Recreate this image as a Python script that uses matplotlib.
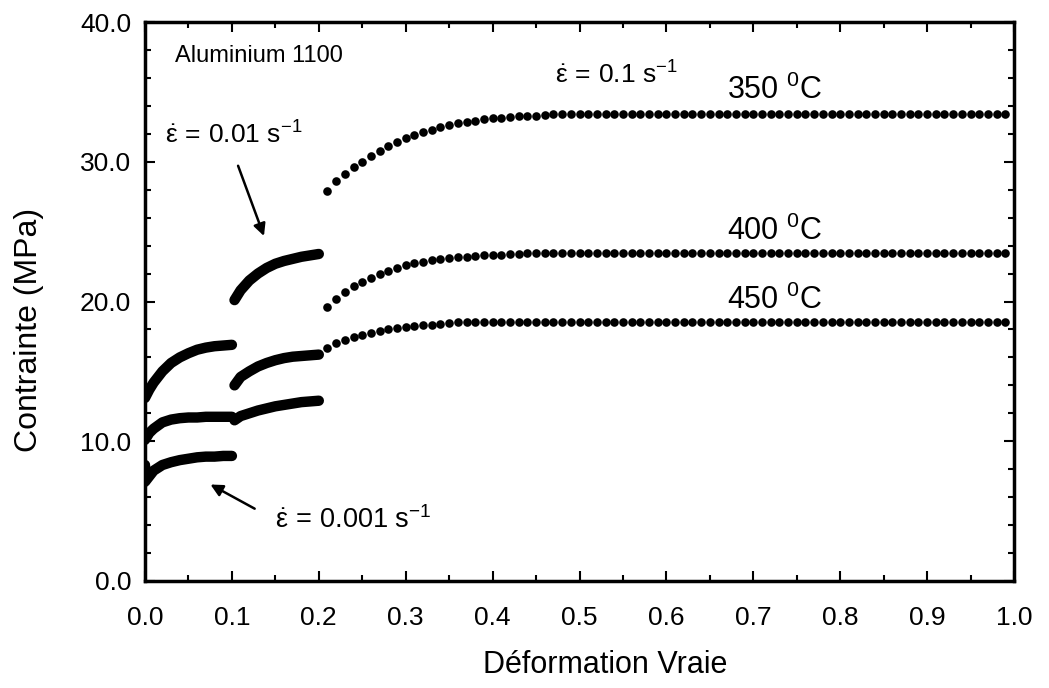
import numpy as np
import matplotlib
matplotlib.use("Agg")
import matplotlib.pyplot as plt
from matplotlib.ticker import MultipleLocator, FormatStrFormatter

plt.rcParams['font.family'] = ['Liberation Sans', 'DejaVu Sans']
plt.rcParams['mathtext.fontset'] = 'custom'
plt.rcParams['mathtext.rm'] = 'Liberation Sans'
plt.rcParams['mathtext.it'] = 'Liberation Sans:italic'
plt.rcParams['mathtext.bf'] = 'Liberation Sans:bold'

# ---- data: strain rate 0.001 s-1 segment (0 - 0.1) ----
seg1_x_350 = [0.0, 0.005, 0.01, 0.02, 0.03, 0.04, 0.05, 0.06, 0.07, 0.08, 0.09, 0.10]
seg1_y_350 = [13.1, 13.7, 14.2, 15.0, 15.6, 16.0, 16.3, 16.55, 16.7, 16.8, 16.85, 16.9]
seg1_x_400 = [0.0, 0.005, 0.01, 0.02, 0.03, 0.04, 0.05, 0.06, 0.07, 0.08, 0.09, 0.10]
seg1_y_400 = [10.1, 10.6, 10.9, 11.35, 11.55, 11.65, 11.7, 11.7, 11.75, 11.75, 11.75, 11.75]
seg1_x_450 = [0.0, 0.0, 0.005, 0.01, 0.02, 0.03, 0.04, 0.05, 0.06, 0.07, 0.08, 0.09, 0.10]
seg1_y_450 = [8.3, 7.1, 7.5, 7.9, 8.3, 8.5, 8.65, 8.75, 8.85, 8.9, 8.9, 8.95, 8.95]

# ---- strain rate 0.01 s-1 segment (0.1 - 0.2) ----
seg2_x = [0.103, 0.11, 0.12, 0.13, 0.14, 0.15, 0.16, 0.17, 0.18, 0.19, 0.20]
seg2_y_350 = [20.1, 20.8, 21.5, 22.0, 22.4, 22.7, 22.9, 23.05, 23.2, 23.3, 23.4]
seg2_y_400 = [14.0, 14.6, 15.0, 15.35, 15.6, 15.8, 15.95, 16.05, 16.1, 16.15, 16.2]
seg2_y_450 = [11.5, 11.8, 12.0, 12.2, 12.35, 12.5, 12.6, 12.7, 12.8, 12.85, 12.9]

# ---- strain rate 0.1 s-1 segment (0.21 - 0.99), one point every 0.01 ----
seg3_x = [round(0.21 + 0.01 * i, 2) for i in range(79)]
seg3_y_350 = ([27.9, 28.6, 29.1, 29.6, 30.0, 30.4, 30.8, 31.1, 31.4, 31.7,
               31.9, 32.1, 32.3, 32.5, 32.6, 32.75, 32.85, 32.95, 33.05, 33.1,
               33.15, 33.2, 33.25, 33.3, 33.3, 33.35] + [33.4] * 53)
seg3_y_400 = ([19.6, 20.2, 20.7, 21.1, 21.4, 21.7, 22.0, 22.2, 22.4, 22.6,
               22.75, 22.85, 22.95, 23.05, 23.1, 23.15, 23.2, 23.25, 23.3, 23.3,
               23.35, 23.4, 23.4] + [23.45] * 56)
seg3_y_450 = ([16.7, 17.0, 17.25, 17.45, 17.6, 17.75, 17.9, 18.0, 18.1, 18.2,
               18.25, 18.3, 18.35, 18.4, 18.45, 18.5, 18.5] + [18.55] * 62)

x_ticks = [0.0, 0.1, 0.2, 0.3, 0.4, 0.5, 0.6, 0.7, 0.8, 0.9, 1.0]
y_ticks = [0.0, 10.0, 20.0, 30.0, 40.0]

fig = plt.figure(figsize=(10.49, 6.88), dpi=100)
ax = fig.add_axes([145 / 1049, 1 - 581 / 688, (1014 - 145) / 1049, (581 - 22) / 688])

thick = dict(color='black', lw=7.5, solid_capstyle='round', solid_joinstyle='round')
for xs, ys in [(seg1_x_350, seg1_y_350), (seg1_x_400, seg1_y_400), (seg1_x_450, seg1_y_450),
               (seg2_x, seg2_y_350), (seg2_x, seg2_y_400), (seg2_x, seg2_y_450)]:
    ax.plot(xs, ys, **thick)
for ys in [seg3_y_350, seg3_y_400, seg3_y_450]:
    ax.plot(seg3_x, ys, 'o', color='black', markersize=6.2, markeredgewidth=0)

ax.set_xlim(0, 1.0)
ax.set_ylim(0, 40)
ax.set_xticks(x_ticks)
ax.set_yticks(y_ticks)
ax.xaxis.set_minor_locator(MultipleLocator(0.05))
ax.yaxis.set_minor_locator(MultipleLocator(2))
ax.xaxis.set_major_formatter(FormatStrFormatter('%.1f'))
ax.yaxis.set_major_formatter(FormatStrFormatter('%.1f'))
ax.tick_params(which='both', direction='in', top=True, right=True, width=1.5, labelsize=19)
ax.tick_params(which='major', length=7)
ax.tick_params(which='minor', length=4)
ax.tick_params(axis='x', which='major', pad=18)
ax.tick_params(axis='y', which='major', pad=10)
for s in ax.spines.values():
    s.set_linewidth(2.5)

fig.text(605 / 1049, 1 - 665 / 688, 'Déformation Vraie', ha='center', va='center', fontsize=22)
fig.text(29 / 1049, 1 - 330 / 688, 'Contrainte (MPa)', ha='center', va='center', rotation=90, fontsize=23)

eps = r'$\dot{\mathrm{\varepsilon}}$'
ax.text(0.035, 37.6, 'Aluminium 1100', fontsize=17, ha='left', va='center')
ax.text(0.472, 36.2, eps + r'$\,=\,$0.1 s$^{\mathrm{-1}}$', fontsize=19, ha='left', va='center')
ax.text(0.023, 31.9, eps + r'$\,=\,$0.01 s$^{\mathrm{-1}}$', fontsize=19, ha='left', va='center')
ax.text(0.150, 4.36, eps + r'$\,=\,$0.001 s$^{\mathrm{-1}}$', fontsize=19.5, ha='left', va='center')
ax.text(0.67, 35.1, r'350 $^{\mathrm{0}}$C', fontsize=22, ha='left', va='center')
ax.text(0.67, 25.0, r'400 $^{\mathrm{0}}$C', fontsize=22, ha='left', va='center')
ax.text(0.67, 20.1, r'450 $^{\mathrm{0}}$C', fontsize=22, ha='left', va='center')

arrow = dict(arrowstyle='-|>', color='black', lw=1.8, mutation_scale=18)
ax.annotate('', xy=(0.138, 24.5), xytext=(0.106, 29.9), arrowprops=arrow)
ax.annotate('', xy=(0.0725, 7.0), xytext=(0.129, 5.08), arrowprops=arrow)

fig.savefig('out.png', dpi=100)
